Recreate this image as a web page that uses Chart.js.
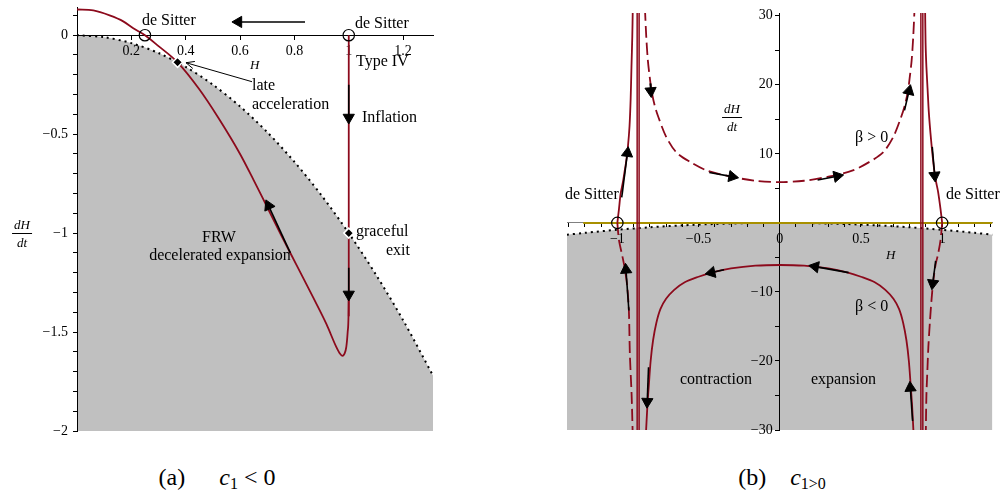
<!DOCTYPE html>
<html>
<head>
<meta charset="utf-8">
<script src="https://cdn.jsdelivr.net/npm/chart.js@4.4.1/dist/chart.umd.min.js"></script>
<style>
  html, body { margin: 0; padding: 0; background: #fff; }
  #page { position: relative; width: 1000px; height: 494px; overflow: hidden;
          font-family: 'Liberation Serif', 'Times New Roman', serif; color: #000; }
  canvas { position: absolute; top: 0; }
  #chartA { left: 0; }
  #chartB { left: 540px; }
  .t { position: absolute; font-size: 16px; line-height: 16px; white-space: nowrap; }
  .c { transform: translateX(-50%); }
  .it { position: absolute; font-size: 13px; line-height: 13px; font-style: italic; }
  .frac { position: absolute; font-size: 13px; line-height: 13px; font-style: italic; text-align: center; transform: translateX(-50%); }
  .frac span { display: block; padding: 0 2px; }
  .frac .num { border-bottom: 1px solid #000; padding-bottom: 2px; }
  .frac .den { padding-top: 2px; }
  .cap { position: absolute; font-size: 24px; line-height: 24px; white-space: nowrap; transform: translateX(-50%); }
  .cap .sub { font-size: 16px; position: relative; top: 4px; }
</style>
</head>
<body>
<div id="page">
  <canvas id="chartA" width="450" height="440"></canvas>
  <canvas id="chartB" width="460" height="440"></canvas>

  <!-- panel (a) labels -->
  <div class="t" style="left:142px;top:12px">de Sitter</div>
  <div class="t" style="left:355px;top:15px">de Sitter</div>
  <div class="t" style="left:356px;top:53px">Type IV</div>
  <div class="it" style="left:250px;top:58px">H</div>
  <div class="t" style="left:252px;top:77px">late</div>
  <div class="t" style="left:252px;top:96px">acceleration</div>
  <div class="t" style="left:362px;top:109px">Inflation</div>
  <div class="t" style="left:356px;top:223px">graceful</div>
  <div class="t" style="left:386px;top:242px">exit</div>
  <div class="t c" style="left:219px;top:229px">FRW</div>
  <div class="t c" style="left:220px;top:247px">decelerated expansion</div>
  <div class="frac" style="left:22px;top:218px"><span class="num">dH</span><span class="den">dt</span></div>
  <div class="cap" style="left:217px;top:465px">(a)<span style="margin-left:34px"><i>c</i><span class="sub">1</span> &lt; 0</span></div>

  <!-- panel (b) labels -->
  <div class="t" style="left:565px;top:186px">de Sitter</div>
  <div class="t" style="left:946px;top:186px">de Sitter</div>
  <div class="t" style="left:855px;top:129px">β &gt; 0</div>
  <div class="t" style="left:855px;top:298px">β &lt; 0</div>
  <div class="t" style="left:680px;top:371px">contraction</div>
  <div class="t" style="left:811px;top:371px">expansion</div>
  <div class="it" style="left:886px;top:248px">H</div>
  <div class="frac" style="left:732px;top:102px"><span class="num">dH</span><span class="den">dt</span></div>
  <div class="cap" style="left:782px;top:465px">(b)<span style="margin-left:24px"><i>c</i><span class="sub">1&gt;0</span></span></div>
</div>

<script>
// ---------- panel (a): c1 < 0 ----------
const BOUND_A_H = [0, 0.1, 0.2, 0.3, 0.4, 0.5, 0.6, 0.7, 0.8, 0.9, 1.0, 1.1, 1.2, 1.31];
const BOUND_A_Y = [0, -0.01, -0.04, -0.09, -0.16, -0.25, -0.36, -0.49, -0.64, -0.81, -1.0, -1.21, -1.44, -1.72];

const FRW_H = [0, 0.06, 0.12, 0.17, 0.207, 0.25, 0.3, 0.37, 0.45, 0.52, 0.6, 0.65, 0.696, 0.752, 0.808, 0.869, 0.918, 0.954, 0.968, 0.976, 0.984, 0.991, 0.996, 0.999, 1.0];
const FRW_Y = [0.13, 0.125, 0.1, 0.07, 0.035, 0, -0.055, -0.137, -0.273, -0.417, -0.6, -0.732, -0.858, -1.012, -1.162, -1.325, -1.46, -1.575, -1.61, -1.62, -1.61, -1.575, -1.5, -1.42, -1.3];

const INFL_H = [1, 1];
const INFL_Y = [0, -1.42];

const DESITTER_A = [[0.25, 0], [1, 0]];
const DIAMONDS_A = [[0.37, -0.137], [1, -1]];
// [tailH, tailY, headH, headY]
const ARROWS_A = [[0.839, 0.067, 0.594, 0.067], [1, -0.25, 1, -0.416], [1, -1.175, 1, -1.31], [0.785, -1.1, 0.705, -0.862]];
const NOTE_ARROW = [0.644, -0.235, 0.401, -0.139];

const X_TICKS_A = [0.2, 0.4, 0.6, 0.8, 1, 1.2];

// ---------- panel (b): c1 > 0 ----------
const BOUND_B_H = [-1.31, -1.2, -1.0, -0.8, -0.6, -0.4, -0.2, 0, 0.2, 0.4, 0.6, 0.8, 1.0, 1.2, 1.31];
const BOUND_B_Y = [-1.72, -1.44, -1.0, -0.64, -0.36, -0.16, -0.04, 0, -0.04, -0.16, -0.36, -0.64, -1.0, -1.44, -1.72];

const ZERO_H = [-1.21, 1.31];
const ZERO_Y = [0, 0];

const VLINES_B = [-0.878, -0.866, 0.869, 0.881];

const OUT_UL_H = [-1, -0.99, -0.98, -0.965, -0.955, -0.945, -0.935, -0.925, -0.918, -0.913, -0.908, -0.905];
const OUT_UL_Y = [0, 2, 4.2, 6, 7.5, 9, 11, 14, 18, 22.6, 27, 31];
const OUT_UR_H = [1, 0.99, 0.975, 0.962, 0.952, 0.94, 0.928, 0.918, 0.91, 0.903, 0.898, 0.895];
const OUT_UR_Y = [0, 2, 4.5, 6, 7.5, 10, 13, 16, 19.5, 22.6, 26, 31];
const OUT_LL_H = [-1, -0.99, -0.972, -0.955, -0.94, -0.929, -0.923, -0.912, -0.905];
const OUT_LL_Y = [0, -2.5, -4.5, -6.5, -9, -12.7, -19, -25, -31];
const OUT_LR_H = [1, 0.99, 0.975, 0.96, 0.945, 0.935, 0.925, 0.915, 0.909, 0.903, 0.899];
const OUT_LR_Y = [0, -2.5, -4.5, -6, -8.5, -11, -14.2, -18, -21.4, -25, -31];

const BPOS_H = [-0.83, -0.822, -0.812, -0.8, -0.79, -0.77, -0.747, -0.7, -0.636, -0.55, -0.45, -0.3, -0.15, 0, 0.15, 0.3, 0.45, 0.55, 0.636, 0.7, 0.747, 0.77, 0.79, 0.8, 0.812, 0.822, 0.83];
const BPOS_Y = [31, 27, 23.5, 21, 19.2, 17, 15.3, 12.5, 10.2, 8.8, 7.6, 6.7, 6.1, 5.9, 6.1, 6.7, 7.6, 8.8, 10.2, 12.5, 15.3, 17, 19.2, 21, 23.5, 27, 31];

const BNEG_H = [-0.825, -0.815, -0.806, -0.795, -0.78, -0.76, -0.735, -0.7, -0.65, -0.585, -0.5, -0.42, -0.3, -0.15, 0, 0.15, 0.3, 0.42, 0.5, 0.585, 0.65, 0.7, 0.735, 0.76, 0.78, 0.795, 0.806, 0.815, 0.825];
const BNEG_Y = [-31, -26.5, -23.5, -20, -17, -14.5, -12.5, -11, -9.7, -8.6, -7.8, -7.2, -6.6, -6.2, -6.1, -6.2, -6.6, -7.2, -7.8, -8.6, -9.7, -11, -12.5, -14.5, -17, -20, -23.5, -26.5, -31];

const DESITTER_B = [[-1, 0], [1, 0]];
const ARROWS_B = [
  [-0.973, 3.7, -0.938, 10.1],
  [-0.7975, 20.2, -0.794, 19.1],
  [-0.434, 7.3, -0.293, 6.7],
  [0.233, 6.2, 0.354, 6.76],
  [0.768, 16.3, 0.796, 19.1],
  [0.939, 11.0, 0.954, 6.86],
  [-0.929, -12.7, -0.947, -6.8],
  [-0.808, -20.9, -0.816, -25.9],
  [-0.343, -6.8, -0.42, -7.2],
  [0.424, -7.2, 0.218, -6.34],
  [0.818, -28.7, 0.804, -23.9],
  [0.96, -5.5, 0.942, -8.76]
];

const X_TICKS_B_MAJOR = [-1, -0.5, 0, 0.5, 1];
const Y_TICKS_B_MAJOR = [-30, -20, -10, 10, 20, 30];

// ---------- helpers ----------
const RED = '#8c0a1c';
const GRAY = '#c0c0c0';
const OLIVE = '#a89000';
const FONT = { family: "'Liberation Serif', 'Times New Roman', serif", size: 14 };

const pts = (xs, ys) => xs.map((x, i) => ({ x: x, y: ys[i] }));
const pairs = arr => arr.map(p => ({ x: p[0], y: p[1] }));
const range = (a, b, s) => { const out = []; for (let v = a; v <= b + s / 2; v += s) out.push(Math.round(v * 1000) / 1000); return out; };
const near = (v, list) => list.some(m => Math.abs(m - v) < 1e-6);
const fmt = v => String(Math.round(v * 10) / 10).replace('-', '\u2212');
// scale boxes take no layout room, so the chart area is set by the padding alone
const noPad = s => { s.paddingTop = 0; s.paddingBottom = 0; s.paddingLeft = 0; s.paddingRight = 0; };

function curve(data, color, opts) {
  return Object.assign({ data: data, showLine: true, borderColor: color, borderWidth: 1.8,
    pointRadius: 0, tension: 0.3, fill: false, order: 2 }, opts || {});
}

function arrowSets(arrows) {
  const sets = arrows.map(a => curve([{ x: a[0], y: a[1] }, { x: a[2], y: a[3] }], '#000', { borderWidth: 1.6, tension: 0, order: 1 }));
  sets.push({
    data: arrows.map(a => ({ x: a[2], y: a[3] })), showLine: false, order: 0,
    pointStyle: 'triangle', pointRadius: 6.5, pointBackgroundColor: '#000', pointBorderColor: '#000', pointBorderWidth: 1,
    pointRotation: ctx => {
      const a = arrows[ctx.dataIndex];
      if (!a) return 0;
      const sx = ctx.chart.scales.x, sy = ctx.chart.scales.y;
      const dx = sx.getPixelForValue(a[2]) - sx.getPixelForValue(a[0]);
      const dy = sy.getPixelForValue(a[3]) - sy.getPixelForValue(a[1]);
      return Math.atan2(dx, -dy) * 180 / Math.PI;
    }
  });
  return sets;
}

function circles(list) {
  return { data: pairs(list), showLine: false, order: 0, pointStyle: 'circle', pointRadius: 5.7,
    pointBackgroundColor: 'rgba(0,0,0,0)', pointBorderColor: '#000', pointBorderWidth: 1.2 };
}

function axis(o) {
  return Object.assign({
    type: 'linear',
    grid: { drawOnChartArea: false, drawTicks: true, tickLength: 4, color: '#000' },
    border: { display: true, color: '#000', width: 1 }
  }, o);
}

function tickOpts(cb, pad) {
  return { autoSkip: false, maxRotation: 0, padding: pad, color: '#000', font: FONT, callback: cb };
}

const baseOptions = pad => ({
  responsive: false, animation: false, devicePixelRatio: 1,
  layout: { padding: pad },
  plugins: { legend: { display: false }, tooltip: { enabled: false }, filler: { drawTime: 'beforeDraw' } }
});

// annotation arrow "late acceleration"
const noteArrow = {
  id: 'noteArrow',
  afterDatasetsDraw(chart) {
    const ctx = chart.ctx, sx = chart.scales.x, sy = chart.scales.y;
    const x0 = sx.getPixelForValue(NOTE_ARROW[0]), y0 = sy.getPixelForValue(NOTE_ARROW[1]);
    const x1 = sx.getPixelForValue(NOTE_ARROW[2]), y1 = sy.getPixelForValue(NOTE_ARROW[3]);
    const ang = Math.atan2(y1 - y0, x1 - x0);
    ctx.save();
    ctx.strokeStyle = '#000';
    ctx.lineWidth = 1;
    ctx.beginPath();
    ctx.moveTo(x0, y0); ctx.lineTo(x1, y1);
    [-0.42, 0.42].forEach(d => {
      ctx.moveTo(x1, y1);
      ctx.lineTo(x1 - 9 * Math.cos(ang + d), y1 - 9 * Math.sin(ang + d));
    });
    ctx.stroke();
    ctx.restore();
  }
};

// ---------- chart (a) ----------
const optsA = baseOptions({ left: 0, right: 17, top: 5, bottom: 9 });
optsA.scales = {
  x: axis({ min: 0, max: 1.31, position: { y: 0 },
    afterBuildTicks: s => { s.ticks = X_TICKS_A.map(v => ({ value: v })); },
    afterFit: s => { s.height = 0; noPad(s); },
    ticks: tickOpts(v => fmt(v), 4) }),
  y: axis({ min: -2, max: 0.14, position: 'left',
    afterBuildTicks: s => { s.ticks = range(-2, 0.1, 0.1).map(v => ({ value: v })); },
    afterFit: s => { s.width = 77; noPad(s); },
    ticks: tickOpts(v => near(v / 0.5, [Math.round(v / 0.5)]) ? fmt(v) : '', 5) })
};

new Chart(document.getElementById('chartA'), {
  type: 'scatter',
  data: {
    datasets: [
      curve(pts(BOUND_A_H, BOUND_A_Y), '#000', { fill: 'start', backgroundColor: GRAY, borderDash: [2, 4], borderWidth: 2, order: 5 }),
      curve(pts(FRW_H, FRW_Y), RED, { cubicInterpolationMode: 'monotone' }),
      curve(pts(INFL_H, INFL_Y), RED, { tension: 0 }),
      ...arrowSets(ARROWS_A),
      circles(DESITTER_A),
      { data: pairs(DIAMONDS_A), showLine: false, order: 0, pointStyle: 'rectRot', pointRadius: 5,
        pointBackgroundColor: '#000', pointBorderColor: '#fff', pointBorderWidth: 1.5 }
    ]
  },
  options: optsA,
  plugins: [noteArrow]
});

// ---------- chart (b) ----------
const optsB = baseOptions({ left: 27, right: 0, top: 13, bottom: 10 });
optsB.scales = {
  x: axis({ min: -1.31, max: 1.31, position: { y: 0 },
    border: { display: true, color: '#808080', width: 1 },
    afterBuildTicks: s => { s.ticks = range(-1.3, 1.3, 0.1).map(v => ({ value: v })); },
    afterFit: s => { s.height = 0; noPad(s); },
    ticks: tickOpts(v => near(v, X_TICKS_B_MAJOR) ? fmt(v) : '', 4) }),
  y: axis({ min: -30, max: 30.4, position: 'center',
    afterBuildTicks: s => { s.ticks = range(-30, 30, 5).map(v => ({ value: v })); },
    afterFit: s => { s.width = 0; noPad(s); },
    ticks: tickOpts(v => near(v, Y_TICKS_B_MAJOR) ? fmt(v) : '', 3) })
};

new Chart(document.getElementById('chartB'), {
  type: 'scatter',
  data: {
    datasets: [
      curve(pts(BOUND_B_H, BOUND_B_Y), '#000', { fill: 'start', backgroundColor: GRAY, borderDash: [2, 4], borderWidth: 2, order: 5 }),
      curve(pts(ZERO_H, ZERO_Y), OLIVE, { tension: 0, borderWidth: 2, order: 4 }),
      ...VLINES_B.map(h => curve([{ x: h, y: -31 }, { x: h, y: 31 }], RED, { tension: 0, borderWidth: 1.5, order: 3 })),
      curve(pts(OUT_UL_H, OUT_UL_Y), RED),
      curve(pts(OUT_UR_H, OUT_UR_Y), RED),
      curve(pts(OUT_LL_H, OUT_LL_Y), RED, { borderDash: [12, 5] }),
      curve(pts(OUT_LR_H, OUT_LR_Y), RED, { borderDash: [12, 5] }),
      curve(pts(BPOS_H, BPOS_Y), RED, { borderDash: [12, 5] }),
      curve(pts(BNEG_H, BNEG_Y), RED),
      ...arrowSets(ARROWS_B),
      circles(DESITTER_B)
    ]
  },
  options: optsB
});
</script>
</body>
</html>
